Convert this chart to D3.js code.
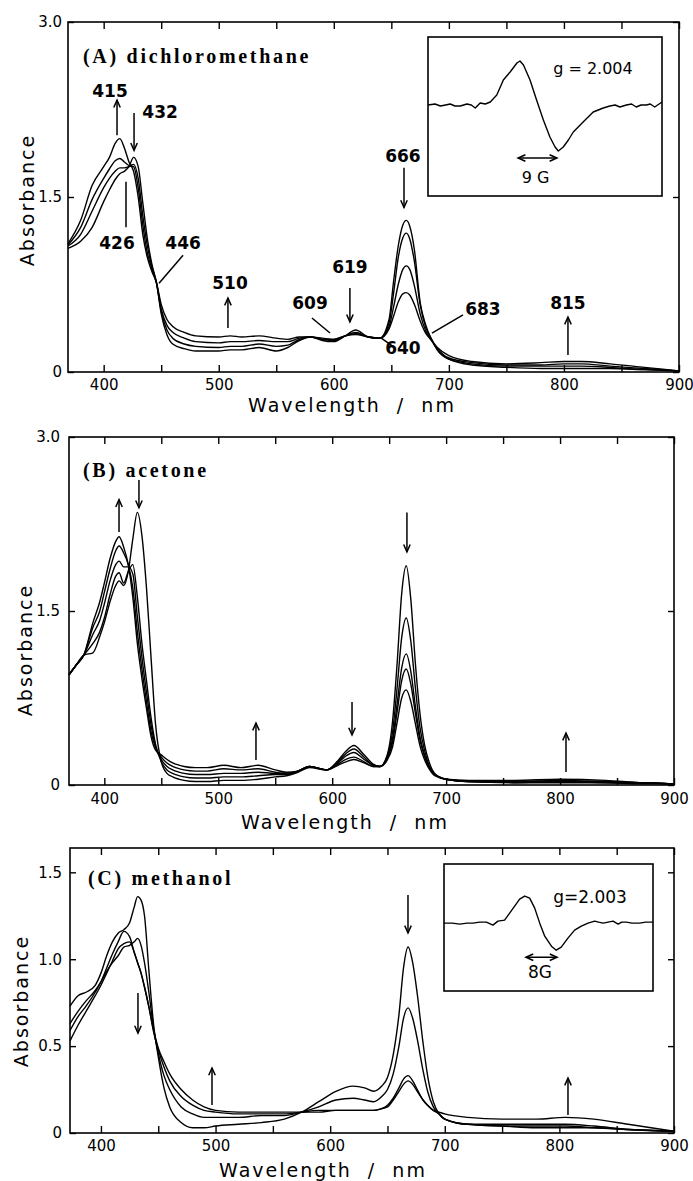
<!DOCTYPE html>
<meta charset="utf-8">
<html>
<head>
<style>
  body { margin: 0; background: #fff; }
</style>
<script src="https://d3js.org/d3.v7.min.js"></script>
</head>
<body>
<div id="chart"></div>
<script>

// ---------- (A) dichloromethane : wavelength grid + 4 spectra ----------
var wlA = [369, 380, 390, 400, 405, 410, 414, 418, 422, 426, 430, 434, 438, 442, 446, 450, 455, 460, 470, 480,
           500, 510, 520, 535, 550, 560, 570, 580, 590, 600, 610, 619, 630, 640, 648, 652, 656, 660, 663, 666,
           670, 675, 680, 685, 690, 700, 720, 750, 780, 800, 815, 840, 870, 900];
var absA1 = [1.10, 1.30, 1.60, 1.76, 1.84, 1.96, 2.00, 1.92, 1.80, 1.72, 1.50, 1.18, 0.98, 0.86, 0.76, 0.58, 0.45, 0.39, 0.34, 0.31,
             0.30, 0.31, 0.30, 0.31, 0.29, 0.28, 0.30, 0.30, 0.29, 0.28, 0.31, 0.32, 0.30, 0.29, 0.37, 0.48, 0.60, 0.67, 0.68, 0.66,
             0.58, 0.44, 0.33, 0.27, 0.21, 0.14, 0.09, 0.07, 0.08, 0.09, 0.09, 0.07, 0.04, 0.01];
var absA2 = [1.09, 1.24, 1.48, 1.66, 1.74, 1.81, 1.83, 1.80, 1.77, 1.76, 1.58, 1.26, 1.02, 0.88, 0.76, 0.54, 0.40, 0.34, 0.29, 0.26,
             0.25, 0.26, 0.26, 0.27, 0.26, 0.26, 0.29, 0.30, 0.28, 0.28, 0.31, 0.33, 0.30, 0.29, 0.39, 0.56, 0.75, 0.88, 0.91, 0.88,
             0.74, 0.50, 0.35, 0.27, 0.20, 0.12, 0.08, 0.06, 0.06, 0.07, 0.07, 0.05, 0.03, 0.01];
var absA3 = [1.08, 1.18, 1.38, 1.58, 1.66, 1.72, 1.75, 1.75, 1.76, 1.78, 1.66, 1.34, 1.08, 0.90, 0.76, 0.52, 0.36, 0.29, 0.24, 0.22,
             0.21, 0.22, 0.22, 0.24, 0.22, 0.23, 0.28, 0.30, 0.28, 0.27, 0.31, 0.34, 0.30, 0.29, 0.42, 0.68, 0.98, 1.15, 1.19, 1.14,
             0.95, 0.58, 0.38, 0.28, 0.19, 0.11, 0.07, 0.05, 0.05, 0.05, 0.05, 0.04, 0.02, 0.01];
var absA4 = [1.06, 1.12, 1.24, 1.46, 1.56, 1.65, 1.70, 1.72, 1.76, 1.84, 1.76, 1.45, 1.14, 0.92, 0.76, 0.50, 0.32, 0.24, 0.20, 0.18,
             0.18, 0.19, 0.19, 0.21, 0.18, 0.21, 0.27, 0.30, 0.27, 0.26, 0.31, 0.36, 0.30, 0.29, 0.45, 0.78, 1.08, 1.26, 1.30, 1.25,
             1.05, 0.60, 0.40, 0.28, 0.19, 0.11, 0.06, 0.04, 0.03, 0.03, 0.03, 0.03, 0.02, 0.01];

// ---------- (B) acetone : 5 spectra ----------
var wlB = [369, 375, 382, 390, 396, 400, 405, 410, 413, 417, 421, 425, 429, 433, 437, 441, 445, 450, 455, 460,
           470, 480, 490, 505, 520, 535, 550, 560, 570, 580, 595, 605, 612, 619, 628, 636, 642, 648, 653, 657,
           661, 665, 669, 673, 677, 681, 685, 690, 700, 720, 760, 800, 840, 870, 900];
var absB1 = [0.95, 1.03, 1.12, 1.40, 1.58, 1.74, 1.95, 2.10, 2.14, 2.05, 1.90, 1.62, 1.22, 0.92, 0.66, 0.42, 0.30, 0.26, 0.22, 0.19,
             0.16, 0.15, 0.15, 0.17, 0.15, 0.17, 0.13, 0.11, 0.12, 0.16, 0.13, 0.17, 0.20, 0.22, 0.19, 0.16, 0.16, 0.21, 0.33, 0.54,
             0.75, 0.82, 0.72, 0.53, 0.34, 0.22, 0.14, 0.08, 0.05, 0.04, 0.04, 0.05, 0.04, 0.02, 0.01];
var absB2 = [0.95, 1.03, 1.12, 1.36, 1.50, 1.66, 1.86, 2.02, 2.06, 2.00, 1.90, 1.70, 1.32, 1.00, 0.72, 0.46, 0.32, 0.24, 0.19, 0.16,
             0.13, 0.12, 0.12, 0.14, 0.13, 0.14, 0.11, 0.10, 0.12, 0.16, 0.13, 0.18, 0.22, 0.24, 0.20, 0.16, 0.16, 0.22, 0.37, 0.63,
             0.90, 1.00, 0.87, 0.62, 0.39, 0.25, 0.15, 0.09, 0.05, 0.03, 0.03, 0.04, 0.03, 0.02, 0.01];
var absB3 = [0.95, 1.03, 1.12, 1.30, 1.42, 1.56, 1.76, 1.90, 1.93, 1.88, 1.88, 1.82, 1.45, 1.10, 0.80, 0.52, 0.33, 0.22, 0.16, 0.13,
             0.10, 0.09, 0.09, 0.10, 0.10, 0.11, 0.10, 0.10, 0.12, 0.16, 0.13, 0.19, 0.25, 0.28, 0.22, 0.17, 0.16, 0.23, 0.40, 0.70,
             1.01, 1.13, 0.98, 0.68, 0.42, 0.26, 0.16, 0.09, 0.05, 0.03, 0.03, 0.03, 0.03, 0.02, 0.01];
var absB4 = [0.95, 1.03, 1.12, 1.22, 1.32, 1.44, 1.64, 1.80, 1.83, 1.74, 1.84, 1.90, 1.62, 1.22, 0.90, 0.58, 0.35, 0.20, 0.13, 0.10,
             0.07, 0.06, 0.06, 0.07, 0.07, 0.08, 0.09, 0.09, 0.12, 0.16, 0.13, 0.20, 0.27, 0.31, 0.24, 0.17, 0.16, 0.24, 0.46, 0.84,
             1.27, 1.44, 1.24, 0.84, 0.50, 0.30, 0.17, 0.09, 0.05, 0.03, 0.02, 0.03, 0.02, 0.02, 0.01];
var absB5 = [0.95, 1.03, 1.12, 1.14, 1.28, 1.40, 1.58, 1.72, 1.76, 1.72, 1.84, 2.12, 2.35, 2.15, 1.70, 1.10, 0.52, 0.20, 0.10, 0.07,
             0.04, 0.03, 0.03, 0.04, 0.04, 0.05, 0.07, 0.08, 0.11, 0.15, 0.13, 0.21, 0.29, 0.34, 0.26, 0.18, 0.16, 0.25, 0.55, 1.05,
             1.65, 1.89, 1.60, 1.05, 0.62, 0.35, 0.20, 0.10, 0.05, 0.03, 0.02, 0.02, 0.02, 0.01, 0.01];

// ---------- (C) methanol : 4 spectra ----------
var wlC = [373, 380, 387, 395, 400, 405, 410, 415, 420, 425, 429, 432, 435, 438, 442, 446, 450, 455, 460, 470,
           480, 490, 500, 520, 540, 560, 575, 590, 605, 620, 630, 638, 645, 650, 655, 660, 664, 668, 672, 676,
           681, 685, 690, 695, 700, 720, 750, 780, 805, 830, 860, 900];
var absC1 = [0.73, 0.79, 0.81, 0.85, 0.92, 1.02, 1.10, 1.15, 1.17, 1.21, 1.30, 1.36, 1.34, 1.25, 0.92, 0.62, 0.44, 0.26, 0.15, 0.06,
             0.03, 0.03, 0.04, 0.05, 0.06, 0.08, 0.12, 0.18, 0.24, 0.27, 0.26, 0.24, 0.27, 0.32, 0.45, 0.68, 0.95, 1.07, 0.98, 0.80,
             0.52, 0.33, 0.18, 0.11, 0.08, 0.05, 0.04, 0.03, 0.03, 0.03, 0.02, 0.01];
var absC2 = [0.63, 0.70, 0.76, 0.82, 0.87, 0.93, 0.98, 1.02, 1.07, 1.08, 1.10, 1.12, 1.08, 0.98, 0.80, 0.60, 0.46, 0.33, 0.25, 0.15,
             0.11, 0.09, 0.09, 0.09, 0.10, 0.10, 0.12, 0.15, 0.19, 0.20, 0.19, 0.18, 0.21, 0.25, 0.34, 0.50, 0.66, 0.72, 0.66, 0.54,
             0.36, 0.24, 0.15, 0.11, 0.08, 0.05, 0.04, 0.04, 0.04, 0.03, 0.02, 0.01];
var absC3 = [0.59, 0.67, 0.73, 0.81, 0.87, 0.95, 1.03, 1.10, 1.16, 1.13, 1.04, 0.98, 0.92, 0.84, 0.72, 0.58, 0.48, 0.38, 0.30, 0.21,
             0.16, 0.13, 0.12, 0.11, 0.11, 0.11, 0.12, 0.13, 0.13, 0.13, 0.13, 0.13, 0.14, 0.16, 0.20, 0.26, 0.31, 0.33, 0.30, 0.25,
             0.19, 0.16, 0.13, 0.11, 0.08, 0.05, 0.05, 0.05, 0.05, 0.04, 0.02, 0.01];
var absC4 = [0.53, 0.62, 0.70, 0.79, 0.85, 0.92, 0.99, 1.06, 1.09, 1.10, 1.04, 0.98, 0.92, 0.84, 0.72, 0.59, 0.49, 0.41, 0.34, 0.25,
             0.19, 0.15, 0.13, 0.12, 0.12, 0.12, 0.12, 0.12, 0.13, 0.13, 0.13, 0.13, 0.14, 0.15, 0.19, 0.24, 0.28, 0.30, 0.28, 0.24,
             0.19, 0.16, 0.13, 0.12, 0.11, 0.09, 0.08, 0.08, 0.09, 0.08, 0.05, 0.01];

// ---------- EPR insets (arbitrary field units 0-100, signal in arb. units) ----------
var eprAField  = [0, 3, 5.3, 7.5, 9.5, 11.5, 13.8, 16.6, 18.5, 20.2, 22.3, 24.5, 26.6, 29.4, 32.2, 35.1, 38, 39.3, 40.8, 43.6,
                  46.4, 49.3, 52.1, 54.3, 55.7, 57.8, 60, 62.1, 66.3, 70.6, 74.9, 77.7, 80, 82, 84.8, 87, 89, 91, 93.3, 95, 96.9, 100];
var eprASignal = [0, 1, -1, 0, 1, -1, -1, 1, 0, -3, 2, 1, 3, 10, 25, 33, 42, 44, 40, 25,
                  5, -15, -32, -42, -46, -42, -35, -27, -17, -7, -3, -1, 0, -2, 0, 1, -2, 0, 0, 1, -2, 3];
var eprCField  = [0, 4, 7.5, 11, 13.9, 17, 20.3, 23.4, 25.8, 29, 31.4, 33.8, 36.2, 38.6, 41, 43.4, 45.8, 48.2, 51.4, 53.7,
                  56.1, 59.3, 62.5, 65.7, 68.9, 72.1, 74, 76.1, 78.5, 80.9, 83.3, 85, 87.2, 90, 93.6, 96.5, 100];
var eprCSignal = [0, 0, -1, 0, 0, 1, 1, -2, 2, 3, 10, 17, 24, 27, 25, 15, 0, -13, -23, -27,
                  -24, -15, -7, -3, 0, 2, 1, 0, 1, 2, -1, 1, 1, 0, 0, 1, 1];

var xTickValues = d3.range(400, 901, 50);

var svg = d3.select("#chart").append("svg")
  .attr("width", 693)
  .attr("height", 1181)
  .style("background", "#fff");

var numFont = "DejaVu Sans";

function drawArrow(g, x1, y1, x2, y2, heads) {
  g.append("line")
    .attr("x1", x1).attr("y1", y1).attr("x2", x2).attr("y2", y2)
    .attr("stroke", "#000").attr("stroke-width", 1.5);
  var ang = Math.atan2(y2 - y1, x2 - x1), L = 8, w = 0.42;
  function head(px, py, a) {
    g.append("polyline")
      .attr("points", [
        [px - L * Math.cos(a - w), py - L * Math.sin(a - w)],
        [px, py],
        [px - L * Math.cos(a + w), py - L * Math.sin(a + w)]
      ].map(p => p.join(",")).join(" "))
      .attr("fill", "none").attr("stroke", "#000").attr("stroke-width", 1.5);
  }
  if (heads >= 1) head(x2, y2, ang);
  if (heads === 2) head(x1, y1, ang + Math.PI);
}

function panel(cfg) {
  var b = cfg.box;
  var x = d3.scaleLinear().domain(cfg.xDomain).range([b.l, b.r]);
  var y = d3.scaleLinear().domain(cfg.yDomain).range([b.b, b.t]);
  var g = svg.append("g");

  // axes (ticks point inward on all four sides)
  var bottom = g.append("g").attr("transform", "translate(0," + b.b + ")")
    .call(d3.axisBottom(x).tickValues(xTickValues).tickSize(-7).tickPadding(cfg.xPad)
      .tickFormat(d => d % 100 ? "" : d));
  g.append("g").attr("transform", "translate(0," + b.t + ")")
    .call(d3.axisTop(x).tickValues(xTickValues).tickSize(-7).tickFormat(""));
  var left = g.append("g").attr("transform", "translate(" + b.l + ",0)")
    .call(d3.axisLeft(y).tickValues(cfg.yTicks).tickSize(-6).tickPadding(cfg.yPad)
      .tickFormat(d => d === 0 ? "0" : d3.format(".1f")(d)));
  g.append("g").attr("transform", "translate(" + b.r + ",0)")
    .call(d3.axisRight(y).tickValues(cfg.yTicks).tickSize(-6).tickFormat(""));
  g.selectAll(".domain").remove();
  g.selectAll(".tick line").attr("stroke-width", 1.4);
  [bottom, left].forEach(a => a.attr("font-family", numFont).attr("font-size", 15));

  g.append("rect")
    .attr("x", b.l).attr("y", b.t)
    .attr("width", b.r - b.l).attr("height", b.b - b.t)
    .attr("fill", "none").attr("stroke", "#000").attr("stroke-width", 1.6);

  // axis titles
  g.append("text")
    .attr("x", cfg.xTitle[0]).attr("y", cfg.xTitle[1])
    .attr("text-anchor", "middle")
    .attr("font-family", numFont).attr("font-size", 19)
    .attr("letter-spacing", 2).style("white-space", "pre")
    .text("Wavelength  /  nm");
  g.append("text")
    .attr("transform", "translate(" + cfg.yTitle[0] + "," + cfg.yTitle[1] + ") rotate(-90)")
    .attr("text-anchor", "middle")
    .attr("font-family", numFont).attr("font-size", 19)
    .attr("letter-spacing", 2)
    .text("Absorbance");

  // panel title
  g.append("text")
    .attr("x", cfg.title[1]).attr("y", cfg.title[2])
    .attr("font-family", "Liberation Serif").attr("font-weight", "bold")
    .attr("font-size", 20).attr("letter-spacing", 2.7)
    .text(cfg.title[0]);

  // spectra
  var line = d3.line().x(d => x(d[0])).y(d => y(d[1])).curve(d3.curveMonotoneX);
  cfg.series.forEach(function (vals) {
    g.append("path")
      .datum(cfg.wl.map((w, i) => [w, vals[i]]))
      .attr("d", line)
      .attr("fill", "none").attr("stroke", "#000").attr("stroke-width", 1.4);
  });

  // arrows / leader lines, given in data units
  (cfg.marks || []).forEach(function (m) {
    drawArrow(g, x(m[0]), y(m[1]), x(m[2]), y(m[3]), m[4]);
  });
  (cfg.labels || []).forEach(function (t) {
    g.append("text")
      .attr("x", x(t[1])).attr("y", y(t[2])).attr("dy", "0.36em")
      .attr("text-anchor", "middle")
      .attr("font-family", numFont).attr("font-weight", "bold").attr("font-size", 17)
      .text(t[0]);
  });

  if (cfg.inset) inset(g, cfg.inset);
}

function inset(g, c) {
  var b = c.box;
  var x = d3.scaleLinear().domain([0, 100]).range([b.l, b.r]);
  var y = d3.scaleLinear().domain(c.yDomain).range([b.b, b.t]);
  g.append("rect")
    .attr("x", b.l).attr("y", b.t).attr("width", b.r - b.l).attr("height", b.b - b.t)
    .attr("fill", "#fff").attr("stroke", "#000").attr("stroke-width", 1.6);
  g.append("path")
    .datum(c.field.map((f, i) => [f, c.signal[i]]))
    .attr("d", d3.line().x(d => x(d[0])).y(d => y(d[1])))
    .attr("fill", "none").attr("stroke", "#000").attr("stroke-width", 1.4)
    .attr("stroke-linejoin", "round");
  g.append("text")
    .attr("x", x(c.gText[1])).attr("y", y(c.gText[2])).attr("dy", "0.36em")
    .attr("text-anchor", "middle").attr("font-family", numFont).attr("font-size", c.fs)
    .text(c.gText[0]);
  g.append("text")
    .attr("x", x(c.wText[1])).attr("y", y(c.wText[2])).attr("dy", "0.36em")
    .attr("text-anchor", "middle").attr("font-family", numFont).attr("font-size", c.fs)
    .text(c.wText[0]);
  drawArrow(g, x(c.span[0]), y(c.span[2]), x(c.span[1]), y(c.span[2]), 2);
}

panel({
  box: {l: 68, r: 679, t: 22, b: 372},
  xDomain: [369, 900], yDomain: [0, 3],
  yTicks: [0, 1.5, 3], xPad: 7, yPad: 6,
  wl: wlA, series: [absA1, absA2, absA3, absA4],
  xTitle: [352, 412], yTitle: [34, 200],
  title: ["(A) dichloromethane", 83, 63],
  marks: [
    [411.6, 2.03, 411.6, 2.33, 1], [426.4, 2.22, 426.4, 1.90, 1],
    [419.4, 1.63, 419.4, 1.24, 0], [469, 1.00, 448.1, 0.76, 0],
    [508, 0.377, 508, 0.634, 1], [581, 0.463, 596.7, 0.334, 0],
    [614, 0.72, 614, 0.43, 1], [661, 1.75, 661, 1.41, 1],
    [641.6, 0.289, 651.7, 0.217, 0], [685.3, 0.334, 712.3, 0.489, 0],
    [803.5, 0.146, 803.5, 0.471, 1]
  ],
  labels: [
    ["415", 405.5, 2.41], ["432", 449, 2.23], ["426", 411.6, 1.11], ["446", 469, 1.11],
    ["510", 509.8, 0.763], ["609", 579.3, 0.59], ["619", 614, 0.90], ["666", 660.1, 1.85],
    ["640", 660.1, 0.206], ["683", 729.6, 0.54], ["815", 803.5, 0.59]
  ],
  inset: {
    box: {l: 428, r: 662, t: 37, b: 196}, yDomain: [-91, 68],
    field: eprAField, signal: eprASignal, fs: 16,
    gText: ["g = 2.004", 70.5, 37], wText: ["9 G", 46, -72], span: [38.5, 55.1, -53]
  }
});

panel({
  box: {l: 69, r: 674, t: 437, b: 785},
  xDomain: [369, 900], yDomain: [0, 3],
  yTicks: [0, 1.5, 3], xPad: 8, yPad: 9,
  wl: wlB, series: [absB1, absB2, absB3, absB4, absB5],
  xTitle: [345, 829], yTitle: [32, 650],
  title: ["(B) acetone", 83, 477],
  marks: [
    [412.9, 2.18, 412.9, 2.46, 1], [430.4, 2.63, 430.4, 2.39, 1],
    [533.1, 0.216, 533.1, 0.534, 1], [617.4, 0.716, 617.4, 0.431, 1],
    [665.6, 2.35, 665.6, 2.01, 1], [805.2, 0.112, 805.2, 0.448, 1]
  ]
});

panel({
  box: {l: 70, r: 674, t: 848, b: 1133},
  xDomain: [373, 900], yDomain: [0, 1.64],
  yTicks: [0, 0.5, 1.0, 1.5], xPad: 7, yPad: 8,
  wl: wlC, series: [absC1, absC2, absC3, absC4],
  xTitle: [323, 1177], yTitle: [28, 1001],
  title: ["(C) methanol", 88, 885],
  marks: [
    [432.3, 0.806, 432.3, 0.575, 1], [496.9, 0.161, 496.9, 0.374, 1],
    [667.9, 1.369, 667.9, 1.151, 1], [807.5, 0.104, 807.5, 0.316, 1]
  ],
  inset: {
    box: {l: 444, r: 653, t: 864, b: 991}, yDomain: [-67.7, 59],
    field: eprCField, signal: eprCSignal, fs: 17,
    gText: ["g=2.003", 69.9, 26], wText: ["8G", 45.9, -49], span: [39.2, 54.1, -34]
  }
});

</script>
</body>
</html>
